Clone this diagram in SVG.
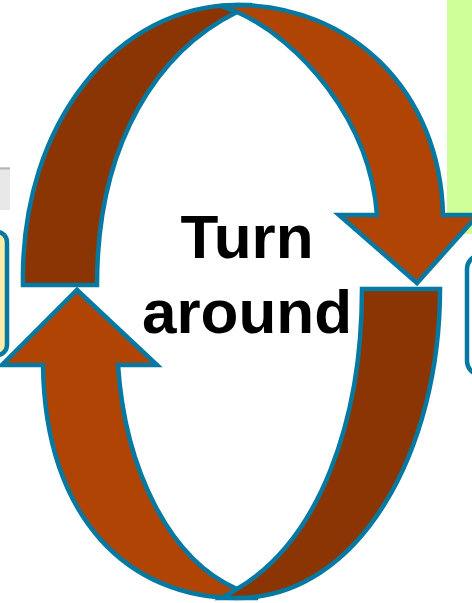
<svg xmlns="http://www.w3.org/2000/svg" width="472" height="603" viewBox="0 0 472 603">
<style>
.band{stroke:#0579A1;stroke-width:4.5;stroke-linejoin:miter;stroke-miterlimit:4}
.light{fill:#B04404}
.dark{fill:#8B3504}
.box{stroke:#0579A1;stroke-width:4.5}
.lbl{font-family:"Liberation Sans",Arial,sans-serif;font-weight:bold;font-size:62px;fill:#000;text-anchor:middle}
</style>
<rect width="472" height="603" fill="#FFFFFF"/>
<g id="background-fragments">
<rect x="447" y="-2" width="30" height="236" fill="#CFFF99"/>
<rect x="-5" y="167" width="15" height="43" fill="#E8E8E8"/>
<line x1="-5" y1="168.5" x2="10" y2="168.5" stroke="#B4B4B4" stroke-width="2"/>
<rect id="left-box" class="box" x="-40" y="232" width="47" height="123" rx="10" fill="#FDEBA8"/>
<rect id="right-box" class="box" x="467" y="255" width="60" height="120" rx="14" fill="#FFFFFF"/>
</g>
<g id="connectors">
<path id="band-top-left" class="band dark" d="M23,285 C20,120 120,5 237,5 L252,5 L237,12 C160,50 97,140 97,285 Z"/>
<path id="arrow-top-right" class="band light" d="M221,6 L237,5 C350,5 440,90 443,215 L478,215 L417,283 L339,215 L377,215 C370,120 300,40 237,12 Z"/>
<path id="arrow-bottom-left" class="band light" d="M118,365 L157,365 L77,290 L2,365 L43,365 C45,520 130,598 237,598 L258,598 L237,589 C170,560 125,470 118,365 Z"/>
<path id="band-bottom-right" class="band dark" d="M362,289 L440,289 C440,450 360,598 237,598 L222,598 L237,589 C320,540 362,420 362,289 Z"/>
</g>
<g id="label">
<text class="lbl" x="247" y="258">Turn</text>
<text class="lbl" x="247" y="333">around</text>
</g>
</svg>
